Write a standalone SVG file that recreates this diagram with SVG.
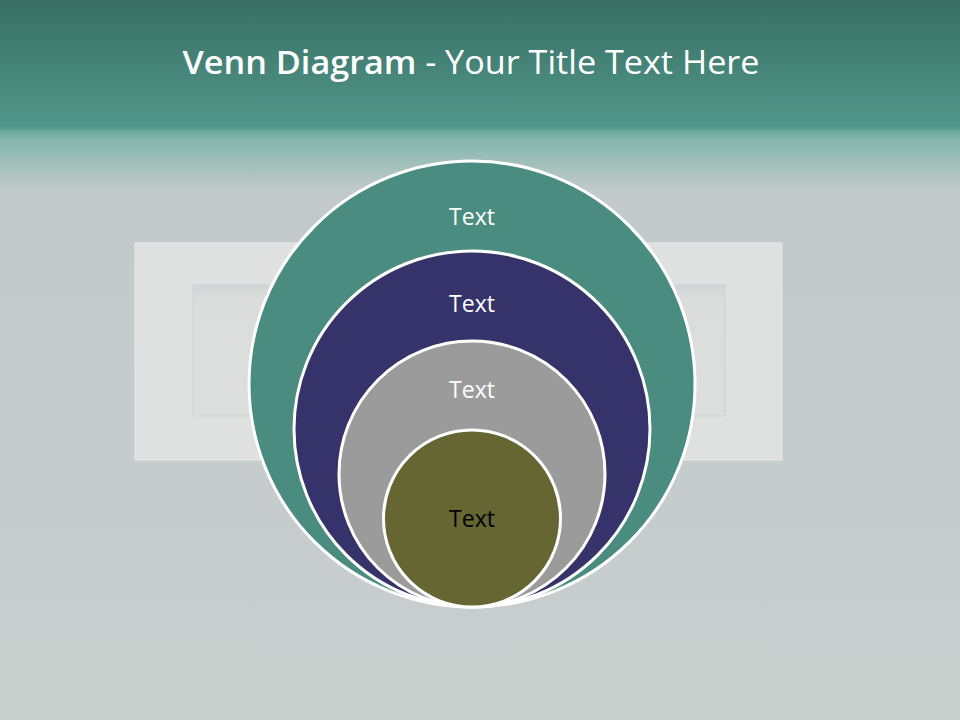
<svg xmlns="http://www.w3.org/2000/svg" width="960" height="720" viewBox="0 0 960 720">
<defs>
<linearGradient id="bg" x1="0" y1="0" x2="0" y2="720" gradientUnits="userSpaceOnUse">
<stop offset="0" stop-color="#386e64"/>
<stop offset="0.176" stop-color="#52988a"/>
<stop offset="0.184" stop-color="#6eab9e"/>
<stop offset="0.195" stop-color="#86b7ac"/>
<stop offset="0.265" stop-color="#c2c9ca"/>
<stop offset="1" stop-color="#c8cfcd"/>
</linearGradient>
<linearGradient id="inner" x1="0" y1="0" x2="0" y2="1">
<stop offset="0" stop-color="#d0d4d4"/>
<stop offset="0.12" stop-color="#dadddc"/>
<stop offset="1" stop-color="#dcdfde"/>
</linearGradient>
<style>
.ring{stroke:#ffffff;stroke-width:3}
.lbl{font-family:"Open Sans","Liberation Sans",sans-serif;font-size:23px;text-anchor:middle}
</style>
</defs>
<rect x="0" y="0" width="960" height="720" fill="url(#bg)"/>
<g id="frame">
<rect x="135" y="243" width="647" height="217" fill="#dfe1e0" stroke="#e8eae9" stroke-width="1"/>
<rect x="193" y="285" width="532" height="131" fill="url(#inner)" stroke="#d0d3d3" stroke-width="1"/>
</g>
<text x="471" y="74" font-family="'Open Sans','Liberation Sans',sans-serif" font-size="32" fill="#ffffff" text-anchor="middle" textLength="577" lengthAdjust="spacingAndGlyphs"><tspan font-weight="600">Venn Diagram</tspan> - Your Title Text Here</text>
<g id="c1"><circle class="ring" cx="472" cy="384" r="223" fill="#4a8c7f"/><text class="lbl" x="472" y="225" fill="#ffffff">Text</text></g>
<g id="c2"><circle class="ring" cx="472" cy="429" r="178" fill="#35336a"/><text class="lbl" x="472" y="312" fill="#ffffff">Text</text></g>
<g id="c3"><circle class="ring" cx="472" cy="474" r="133" fill="#9b9b9b"/><text class="lbl" x="472" y="398" fill="#ffffff">Text</text></g>
<g id="c4"><circle class="ring" cx="472" cy="518.5" r="88.5" fill="#666633"/><text class="lbl" x="472" y="527" fill="#000000">Text</text></g>
</svg>
